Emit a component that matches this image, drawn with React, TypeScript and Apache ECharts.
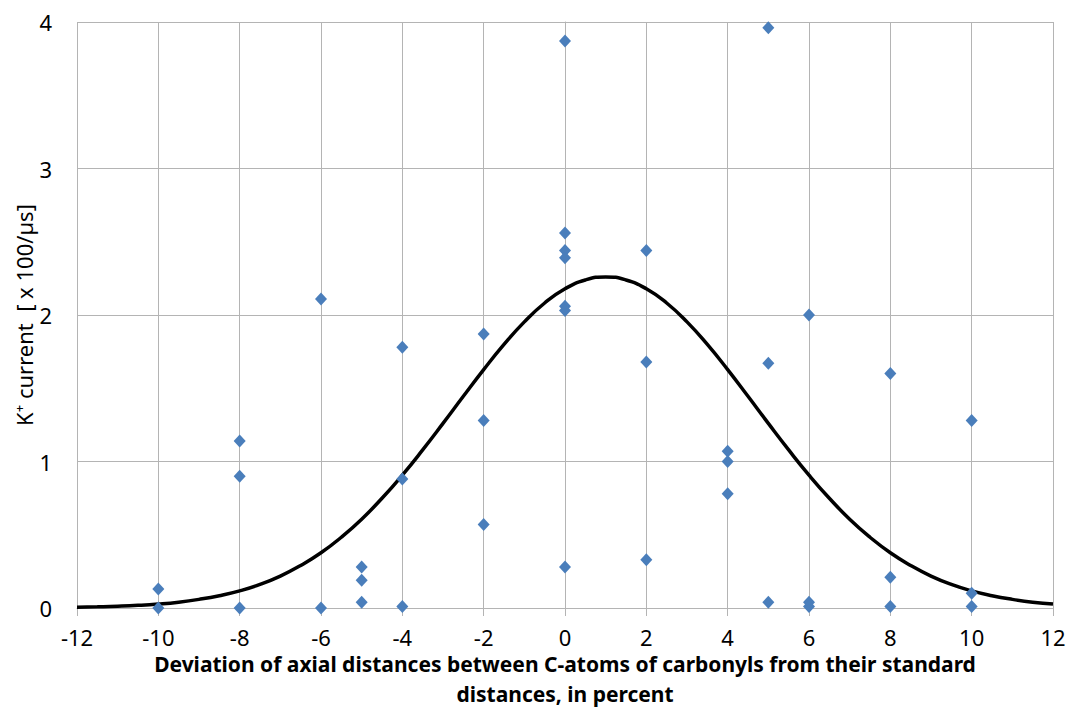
import React, { useEffect, useRef } from "react";
import * as echarts from "echarts";

const pointX = [
  -10, -10,
  -8, -8, -8,
  -6, -6,
  -5, -5, -5,
  -4, -4, -4,
  -2, -2, -2,
  0, 0, 0, 0, 0, 0, 0,
  2, 2, 2,
  4, 4, 4,
  5, 5, 5,
  6, 6, 6,
  8, 8, 8,
  10, 10, 10,
];
const pointY = [
  0.13, 0.0,
  1.14, 0.9, 0.0,
  2.11, 0.0,
  0.28, 0.19, 0.04,
  1.78, 0.88, 0.01,
  1.87, 1.28, 0.57,
  3.87, 2.56, 2.44, 2.39, 2.06, 2.03, 0.28,
  2.44, 1.68, 0.33,
  1.07, 1.0, 0.78,
  3.96, 1.67, 0.04,
  2.0, 0.04, 0.01,
  1.6, 0.21, 0.01,
  1.28, 0.1, 0.01,
];

const curveX = [
  -12, -11.5, -11, -10.5, -10, -9.5, -9, -8.5, -8, -7.5, -7, -6.5, -6, -5.5, -5, -4.5, -4, -3.5, -3, -2.5, -2, -1.5, -1, -0.5,
  0, 0.5, 1, 1.5, 2, 2.5, 3, 3.5, 4, 4.5, 5, 5.5, 6, 6.5, 7, 7.5, 8, 8.5, 9, 9.5, 10, 10.5, 11, 11.5, 12,
];
const curveY = [
  0.005, 0.008, 0.012, 0.018, 0.027, 0.04, 0.059, 0.084, 0.117, 0.161, 0.218, 0.29, 0.377, 0.483, 0.606, 0.749, 0.907, 1.079, 1.26, 1.445, 1.627, 1.799, 1.953, 2.082,
  2.179, 2.239, 2.26, 2.239, 2.179, 2.082, 1.953, 1.799, 1.627, 1.445, 1.26, 1.079, 0.907, 0.749, 0.606, 0.483, 0.377, 0.29, 0.218, 0.161, 0.117, 0.084, 0.059, 0.04, 0.027,
];

const xTitle = "Deviation of axial distances between C-atoms of carbonyls from their standard\ndistances, in percent";
const yTitle = "K\u207A current  [ x 100/\u00B5s]";

export default function App() {
  const ref = useRef<HTMLDivElement>(null);
  useEffect(() => {
    if (!ref.current) return;
    const chart = echarts.init(ref.current, undefined, { renderer: "svg" });
    const gridColor = "#b4b4b4";
    const font = "'Noto Sans', sans-serif";
    chart.setOption({
      animation: false,
      backgroundColor: "#ffffff",
      grid: { left: 77, right: 15, top: 22, bottom: 103, outerBoundsMode: "none", containLabel: false },
      xAxis: {
        type: "value",
        min: -12,
        max: 12,
        interval: 2,
        axisLine: { show: true, onZero: false, lineStyle: { color: gridColor } },
        axisTick: { show: true, length: 8, lineStyle: { color: gridColor } },
        splitLine: { show: true, lineStyle: { color: gridColor, width: 1 } },
        axisLabel: { color: "#000", fontSize: 22, fontFamily: font, margin: 18, lineHeight: 22 },
        name: xTitle,
        nameLocation: "middle",
        nameGap: 41,
        nameMoveOverlap: false,
        nameTextStyle: { color: "#000", fontSize: 21, fontWeight: "bold", fontFamily: font, lineHeight: 30 },
      },
      yAxis: {
        type: "value",
        min: 0,
        max: 4,
        interval: 1,
        axisLine: { show: true, lineStyle: { color: gridColor } },
        axisTick: { show: true, length: 8, lineStyle: { color: gridColor } },
        splitLine: { show: true, lineStyle: { color: gridColor, width: 1 } },
        axisLabel: { color: "#000", fontSize: 22, fontFamily: font, margin: 25 },
        name: yTitle,
        nameLocation: "middle",
        nameGap: 42,
        nameMoveOverlap: false,
        nameTextStyle: { color: "#000", fontSize: 22, fontFamily: font },
      },
      series: [
        {
          type: "line",
          data: curveX.map((x, i) => [x, curveY[i]]),
          smooth: true,
          showSymbol: false,
          lineStyle: { color: "#000", width: 3.5 },
          z: 2,
        },
        {
          type: "scatter",
          data: pointX.map((x, i) => [x, pointY[i]]),
          symbol: "diamond",
          symbolSize: [12, 13],
          itemStyle: { color: "#4a7ebb", opacity: 1 },
          z: 3,
        },
      ],
    });
    return () => chart.dispose();
  }, []);
  return (
    <div
      ref={ref}
      style={{ position: "absolute", left: 0, top: 0, width: 1068, height: 711 }}
    />
  );
}
